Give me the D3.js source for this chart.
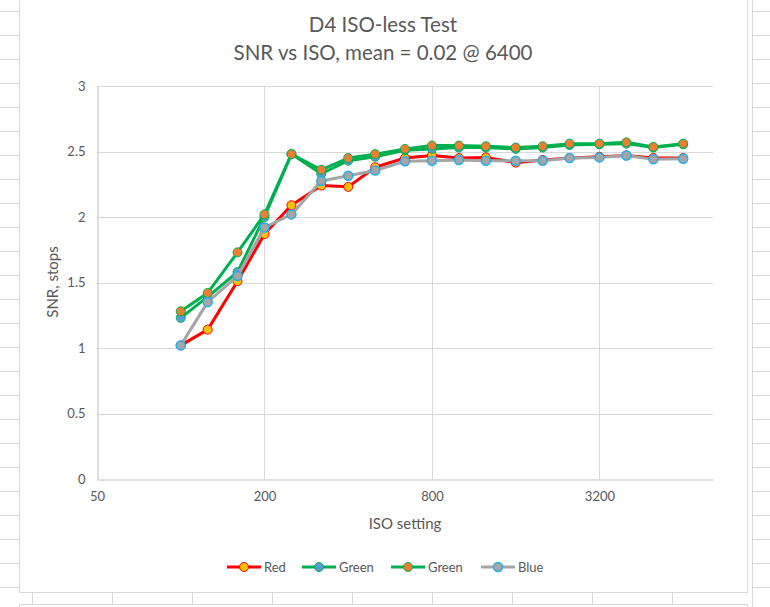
<!DOCTYPE html>
<html>
<head>
<meta charset="utf-8">
<script src="https://cdn.jsdelivr.net/npm/d3@7"></script>
<style>
  html, body { margin: 0; padding: 0; background: #fff; }
  svg { display: block; font-family: Lato, "Open Sans", sans-serif; }
</style>
</head>
<body>
<svg id="chart" width="770" height="607"></svg>
<script>
// ---- data ----
const isoValues = [100, 125, 160, 200, 250, 320, 400, 500, 640, 800, 1000, 1250, 1600, 2000, 2500, 3200, 4000, 5000, 6400];
const redValues = [1.02, 1.14, 1.51, 1.87, 2.09, 2.24, 2.23, 2.38, 2.45, 2.47, 2.45, 2.455, 2.415, 2.435, 2.45, 2.46, 2.47, 2.45, 2.45];
const green1Values = [1.23, 1.39, 1.58, 2.00, 2.48, 2.33, 2.43, 2.46, 2.51, 2.52, 2.53, 2.53, 2.52, 2.53, 2.55, 2.555, 2.56, 2.53, 2.555];
const green2Values = [1.28, 1.42, 1.73, 2.02, 2.48, 2.36, 2.45, 2.48, 2.52, 2.545, 2.545, 2.54, 2.53, 2.54, 2.56, 2.56, 2.57, 2.535, 2.56];
const blueValues = [1.02, 1.35, 1.55, 1.92, 2.02, 2.275, 2.315, 2.355, 2.425, 2.43, 2.435, 2.43, 2.43, 2.43, 2.45, 2.455, 2.47, 2.44, 2.445];
const seriesNames = ["Red", "Green", "Green", "Blue"];
const xTicks = [50, 200, 800, 3200];
const xTickLabels = ["50", "200", "800", "3200"];
const yTicks = [0, 0.5, 1, 1.5, 2, 2.5, 3];
const yTickLabels = ["0", "0.5", "1", "1.5", "2", "2.5", "3"];
const xDomain = [50, 8192];
const yDomain = [0, 3];
const titleLines = ["D4 ISO-less Test", "SNR vs ISO, mean = 0.02 @ 6400"];
const xAxisTitle = "ISO setting";
const yAxisTitle = "SNR, stops";

// ---- styles ----
const styles = [
  { line: "#FF0000", fill: "#FFC000", stroke: "#FF0000", sw: 1 },
  { line: "#00B050", fill: "#5B9BD5", stroke: "#00B050", sw: 1 },
  { line: "#00B050", fill: "#ED7D31", stroke: "#00B050", sw: 1 },
  { line: "#A5A5A5", fill: "#A5A5A5", stroke: "#1FB0EE", sw: 1.5 }
];
const seriesValues = [redValues, green1Values, green2Values, blueValues];

const svg = d3.select("#chart");
const gridColor = "#d9d9d9";

// ---- spreadsheet background ----
const bg = svg.append("g");
for (let yy = 11.5; yy < 607; yy += 24) {
  bg.append("line").attr("x1", 0).attr("x2", 20).attr("y1", yy).attr("y2", yy).attr("stroke", gridColor);
  bg.append("line").attr("x1", 752).attr("x2", 770).attr("y1", yy).attr("y2", yy).attr("stroke", gridColor);
}
bg.append("line").attr("x1", 752.5).attr("x2", 752.5).attr("y1", 0).attr("y2", 607).attr("stroke", gridColor);
for (let xx = 32.5; xx < 752; xx += 80) {
  bg.append("line").attr("x1", xx).attr("x2", xx).attr("y1", 592).attr("y2", 604).attr("stroke", gridColor);
}
// chart box
svg.append("rect").attr("x", 19.5).attr("y", -5).attr("width", 728).attr("height", 597.5)
  .attr("fill", "#fff").attr("stroke", gridColor);
// next chart box top (below)
svg.append("rect").attr("x", 19.5).attr("y", 604.5).attr("width", 728).attr("height", 20)
  .attr("fill", "#fff").attr("stroke", gridColor);

// ---- scales ----
const x = d3.scaleLog().base(2).domain(xDomain).range([97, 713]);
const y = d3.scaleLinear().domain(yDomain).range([479, 86]);

// gridlines
const grid = svg.append("g");
grid.selectAll("line.h").data(yTicks.slice(1)).join("line")
  .attr("x1", x(xDomain[0])).attr("x2", x(xDomain[1]))
  .attr("y1", d => Math.round(y(d)) + 0.5).attr("y2", d => Math.round(y(d)) + 0.5)
  .attr("stroke", gridColor).attr("stroke-width", 1);
grid.selectAll("line.v").data(xTicks.slice(1)).join("line")
  .attr("x1", d => Math.round(x(d)) + 0.5).attr("x2", d => Math.round(x(d)) + 0.5)
  .attr("y1", y(yDomain[1])).attr("y2", y(yDomain[0]))
  .attr("stroke", gridColor).attr("stroke-width", 1);

// axes
const xAxis = d3.axisBottom(x).tickValues(xTicks).tickFormat((d, i) => xTickLabels[i]).tickSize(0).tickPadding(12);
const gx = svg.append("g").attr("transform", `translate(0,${Math.round(y(0)) + 0.5})`).call(xAxis);
gx.select(".domain").attr("stroke", "#bfbfbf");
gx.selectAll("text").attr("fill", "#595959").attr("font-size", 13).attr("font-family", "Lato, sans-serif");

const yAxis = d3.axisLeft(y).tickValues(yTicks).tickFormat((d, i) => yTickLabels[i]).tickSize(0).tickPadding(12);
const gy = svg.append("g").attr("transform", `translate(${Math.round(x(xDomain[0])) + 0.5},0)`).call(yAxis);
gy.select(".domain").attr("stroke", "#bfbfbf");
gy.selectAll("text").attr("fill", "#595959").attr("font-size", 13).attr("font-family", "Lato, sans-serif");

// titles
svg.append("text").attr("x", 383).attr("y", 32).attr("text-anchor", "middle")
  .attr("font-size", 20.5).attr("fill", "#595959").text(titleLines[0]);
svg.append("text").attr("x", 383).attr("y", 60).attr("text-anchor", "middle")
  .attr("font-size", 20.5).attr("fill", "#595959").text(titleLines[1]);
svg.append("text").attr("x", 405).attr("y", 529).attr("text-anchor", "middle")
  .attr("font-size", 15).attr("fill", "#595959").text(xAxisTitle);
svg.append("text").attr("transform", "translate(58,282) rotate(-90)").attr("text-anchor", "middle")
  .attr("font-size", 15).attr("fill", "#595959").text(yAxisTitle);

// series
const line = d3.line().x(d => x(d[0])).y(d => y(d[1]));
seriesValues.forEach((vals, si) => {
  const pts = isoValues.map((iso, i) => [iso, vals[i]]);
  const g = svg.append("g");
  g.append("path").datum(pts).attr("d", line).attr("fill", "none")
    .attr("stroke", styles[si].line).attr("stroke-width", 3).attr("stroke-linejoin", "round").attr("stroke-linecap", "round");
  g.selectAll("circle").data(pts).join("circle")
    .attr("cx", d => x(d[0])).attr("cy", d => y(d[1])).attr("r", 4.5)
    .attr("fill", styles[si].fill).attr("stroke", styles[si].stroke).attr("stroke-width", styles[si].sw);
});

// legend
const legendX = [227, 302, 391, 481];
const legend = svg.append("g");
seriesNames.forEach((name, i) => {
  const lg = legend.append("g").attr("transform", `translate(${legendX[i]},567)`);
  lg.append("line").attr("x1", 0).attr("x2", 34).attr("y1", 0).attr("y2", 0)
    .attr("stroke", styles[i].line).attr("stroke-width", 3);
  lg.append("circle").attr("cx", 17).attr("cy", 0).attr("r", 4.5)
    .attr("fill", styles[i].fill).attr("stroke", styles[i].stroke).attr("stroke-width", styles[i].sw);
  lg.append("text").attr("x", 37).attr("y", 5).attr("font-size", 13).attr("fill", "#595959").text(name);
});
</script>
</body>
</html>
